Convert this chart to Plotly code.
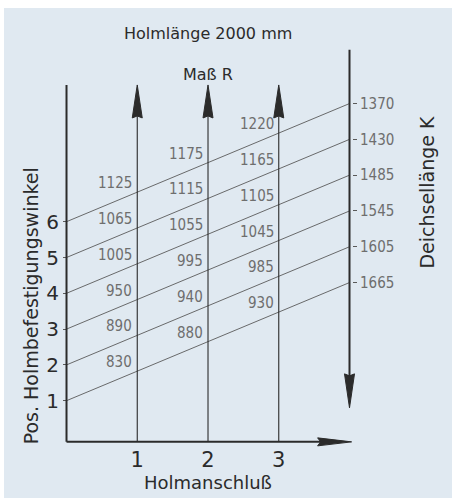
import plotly.graph_objects as go

# Nomogramm Holmlänge 2000 mm
anschluss = [1, 2, 3]                      # Holmanschluß
winkel = [1, 2, 3, 4, 5, 6]                # Pos. Holmbefestigungswinkel
deichsel_k = [1665, 1605, 1545, 1485, 1430, 1370]   # Deichsellänge K je Winkel
mass_r_1 = [830, 890, 950, 1005, 1065, 1125]        # Maß R bei Anschluß 1
mass_r_2 = [880, 940, 995, 1055, 1115, 1175]        # Maß R bei Anschluß 2
mass_r_3 = [930, 985, 1045, 1105, 1165, 1220]       # Maß R bei Anschluß 3
mass_r = [mass_r_1, mass_r_2, mass_r_3]

# geometry of the nomogram (data units)
K_X = 4.0          # x of the K scale
RISE = 3.3         # rise of each line from x=0 to the K scale
BASE_Y = -0.15     # horizontal axis
TOP_Y = 9.82       # top of left axis / arrow tips
K_TOP = 10.8
K_TIP = 0.8
X_TIP = 4.03

X_RANGE = [-0.8836, 5.4488]
Y_RANGE = [-1.7179, 11.9693]

BG = "#E0E9F1"
INK = "#2b2b2b"
GREY = "#5a5a5a"
NUM_GREY = "#6e6e6e"
NUM_FONT = "Liberation Sans Narrow, DejaVu Sans Condensed, Arial Narrow, sans-serif"
TXT_FONT = "DejaVu Sans, sans-serif"

fig = go.Figure()

# sloped lines from winkel position to the K scale
for w in winkel:
    fig.add_trace(go.Scatter(
        x=[0, K_X], y=[w, w + RISE],
        mode="lines", line=dict(color=GREY, width=0.9),
        hoverinfo="skip", showlegend=False
    ))
# K scale anchor points (invisible) so the right axis is drawn
fig.add_trace(go.Scatter(
    x=[K_X] * len(winkel), y=[w + RISE for w in winkel],
    mode="markers", marker=dict(size=1, opacity=0),
    yaxis="y2", hoverinfo="skip", showlegend=False
))

shapes = []
# left axis
shapes.append(dict(type="line", x0=0, x1=0, y0=BASE_Y, y1=TOP_Y,
                   line=dict(color=INK, width=2)))
# bottom axis with arrow
shapes.append(dict(type="line", x0=0, x1=X_TIP - 0.2, y0=BASE_Y, y1=BASE_Y,
                   line=dict(color=INK, width=2)))
shapes.append(dict(type="path", xsizemode="pixel", ysizemode="pixel",
                   xanchor=X_TIP, yanchor=BASE_Y,
                   path="M0,0 L-34,4 L-31,0 L-34,-4 Z",
                   fillcolor=INK, line=dict(color=INK, width=1)))
# verticals at each Anschluß, arrow up
for a in anschluss:
    shapes.append(dict(type="line", x0=a, x1=a, y0=BASE_Y, y1=TOP_Y - 0.5,
                       line=dict(color=INK, width=1.1)))
    shapes.append(dict(type="path", xsizemode="pixel", ysizemode="pixel",
                       xanchor=a, yanchor=TOP_Y,
                       path="M0,0 L-5,-33 L0,-31 L5,-33 Z",
                       fillcolor=INK, line=dict(color=INK, width=1)))
# K scale, arrow down
shapes.append(dict(type="line", x0=K_X, x1=K_X, y0=K_TOP, y1=K_TIP + 0.5,
                   line=dict(color=INK, width=2)))
shapes.append(dict(type="path", xsizemode="pixel", ysizemode="pixel",
                   xanchor=K_X, yanchor=K_TIP,
                   path="M0,0 L-5,34 L0,32 L5,34 Z",
                   fillcolor=INK, line=dict(color=INK, width=1)))

annotations = []
# Maß R labels left of each vertical, above the crossing
for a, col in zip(anschluss, mass_r):
    for w, r in zip(winkel, col):
        annotations.append(dict(
            x=a, y=w + RISE * a / K_X, text=str(r), showarrow=False,
            xanchor="right", yanchor="middle", xshift=-3, yshift=9,
            font=dict(family=NUM_FONT, size=15, color=NUM_GREY)
        ))

annotations += [
    dict(x=2.0, y=11.25, text="Holmlänge 2000 mm", showarrow=False,
         font=dict(family=TXT_FONT, size=16, color=INK)),
    dict(x=2.0, y=10.1, text="Maß R", showarrow=False,
         font=dict(family=TXT_FONT, size=16, color=INK)),
    dict(x=2.0, y=-1.28, text="Holmanschluß", showarrow=False,
         font=dict(family=TXT_FONT, size=18, color=INK)),
    dict(x=-0.5, y=3.64, text="Pos. Holmbefestigungswinkel", showarrow=False,
         textangle=-90, font=dict(family=TXT_FONT, size=19, color=INK)),
    dict(x=5.09, y=6.83, text="Deichsellänge K", showarrow=False,
         textangle=-90, font=dict(family=TXT_FONT, size=19, color=INK)),
]

fig.update_layout(
    width=452, height=498,
    margin=dict(l=4, r=0, t=8, b=0),
    paper_bgcolor="white",
    plot_bgcolor=BG,
    template="none",
    showlegend=False,
    hovermode=False,
    xaxis=dict(
        range=X_RANGE, anchor="free", position=(498 - 442) / 490,
        tickvals=anschluss, ticktext=[str(a) for a in anschluss],
        ticks="", showline=False, showgrid=False, zeroline=False,
        ticklabelstandoff=3,
        tickfont=dict(family=TXT_FONT, size=21, color=INK),
        automargin=False, fixedrange=True
    ),
    yaxis=dict(
        range=Y_RANGE, anchor="free", position=(67 - 4) / 448,
        tickvals=winkel, ticktext=[str(w) for w in winkel],
        ticks="outside", ticklen=4, tickcolor=GREY, tickwidth=1,
        showline=False, showgrid=False, zeroline=False,
        tickfont=dict(family=TXT_FONT, size=20, color=INK),
        automargin=False, fixedrange=True
    ),
    yaxis2=dict(
        range=Y_RANGE, overlaying="y", anchor="free", side="right",
        position=(352 - 4) / 448,
        tickvals=[w + RISE for w in winkel], ticktext=[str(k) for k in deichsel_k],
        ticks="outside", ticklen=4, tickcolor=GREY, tickwidth=1,
        showline=False, showgrid=False, zeroline=False,
        tickfont=dict(family=NUM_FONT, size=15, color=NUM_GREY),
        automargin=False, fixedrange=True
    ),
    shapes=shapes,
    annotations=annotations,
)

# page body has a default 8px margin; remove it so the figure sits at 0,0
fig.write_html("out.html", config={"displayModeBar": False},
               post_script="document.body.style.margin='0';")
